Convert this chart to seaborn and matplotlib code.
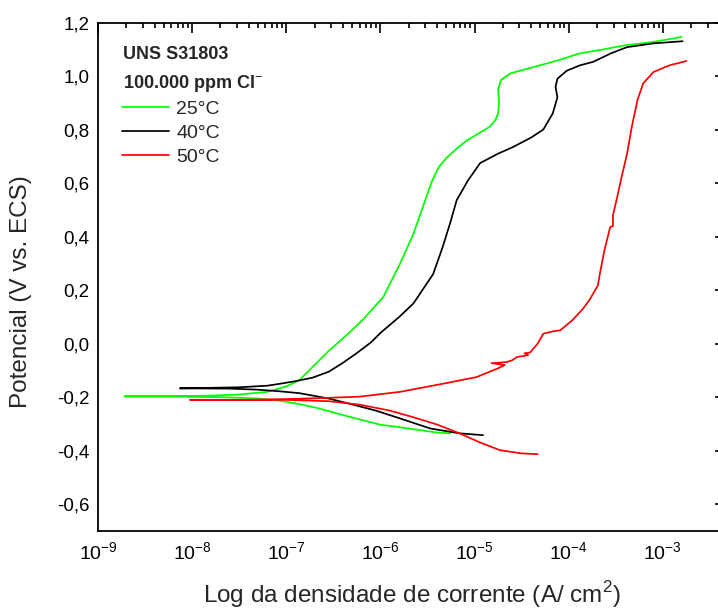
import numpy as np
import pandas as pd
import matplotlib
matplotlib.use("Agg")
import matplotlib.pyplot as plt
import matplotlib.ticker as mticker
import seaborn as sns

# curvas de polarizacao: log10(i [A/cm2]) e potencial (V vs. ECS)
# ordem da varredura: ramo catodico -> Ecorr -> ramo anodico
log_i_25 = [-5.26, -5.40, -5.60, -5.80, -6.00, -6.22, -6.45, -6.64, -6.86, -7.07, -7.30, -7.70,
            -8.20, -8.72,
            -8.20, -7.80, -7.50, -7.20, -7.00, -6.86, -6.70, -6.54, -6.35, -6.19, -5.97, -5.79,
            -5.65, -5.55, -5.45, -5.38, -5.29, -5.18, -5.08, -4.95, -4.84, -4.78, -4.75, -4.74,
            -4.75, -4.72, -4.62, -4.41, -4.10, -3.88, -3.67, -3.40, -3.11, -2.80]
E_25 = [-0.335, -0.332, -0.322, -0.312, -0.303, -0.283, -0.262, -0.243, -0.226, -0.213, -0.205, -0.200,
        -0.198, -0.197,
        -0.196, -0.194, -0.190, -0.180, -0.160, -0.136, -0.080, -0.024, 0.035, 0.088, 0.174, 0.300,
        0.410, 0.510, 0.610, 0.660, 0.697, 0.732, 0.760, 0.787, 0.810, 0.835, 0.860, 0.900,
        0.950, 0.985, 1.010, 1.030, 1.060, 1.085, 1.097, 1.115, 1.127, 1.146]

log_i_40 = [-4.91, -5.16, -5.47, -5.83, -6.05, -6.29, -6.55, -6.86, -7.07, -7.30, -7.60, -8.13,
            -7.80, -7.50, -7.20, -7.07, -6.90, -6.72, -6.55, -6.40, -6.25, -6.10, -6.00, -5.80,
            -5.65, -5.44, -5.34, -5.26, -5.19, -5.07, -4.94, -4.75, -4.59, -4.40, -4.27, -4.17,
            -4.12, -4.14, -4.12, -4.02, -3.88, -3.74, -3.55, -3.38, -3.10, -2.79]
E_40 = [-0.342, -0.335, -0.317, -0.275, -0.250, -0.228, -0.205, -0.185, -0.178, -0.172, -0.168, -0.167,
        -0.165, -0.163, -0.157, -0.150, -0.140, -0.127, -0.105, -0.072, -0.035, 0.005, 0.040, 0.100,
        0.150, 0.260, 0.360, 0.450, 0.536, 0.610, 0.675, 0.710, 0.735, 0.770, 0.800, 0.860,
        0.920, 0.960, 0.990, 1.020, 1.040, 1.053, 1.085, 1.108, 1.122, 1.130]

log_i_50 = [-4.33, -4.50, -4.73, -4.95, -5.16, -5.40, -5.65, -5.90, -6.22, -6.55, -7.00, -7.50, -8.02,
            -7.50, -7.00, -6.60, -6.22, -5.79, -5.34, -4.98, -4.75, -4.68, -4.82, -4.66, -4.60,
            -4.55, -4.43, -4.47, -4.41, -4.33, -4.27, -4.18, -4.09, -3.96, -3.85, -3.78, -3.69,
            -3.67, -3.62, -3.56, -3.53, -3.53, -3.49, -3.44, -3.38, -3.33, -3.27, -3.21, -3.10,
            -2.93, -2.75]
E_50 = [-0.413, -0.410, -0.398, -0.368, -0.335, -0.302, -0.275, -0.250, -0.228, -0.215, -0.210, -0.210, -0.210,
        -0.210, -0.207, -0.203, -0.198, -0.180, -0.150, -0.125, -0.092, -0.080, -0.073, -0.069, -0.062,
        -0.050, -0.043, -0.036, -0.033, 0.000, 0.037, 0.045, 0.050, 0.088, 0.130, 0.163, 0.218,
        0.260, 0.350, 0.435, 0.440, 0.480, 0.540, 0.620, 0.710, 0.810, 0.910, 0.972, 1.015,
        1.040, 1.056]

temps = ["25°C", "40°C", "50°C"]
cores = ["#00ff00", "#000000", "#ff0000"]
x_ticks = [1e-9, 1e-8, 1e-7, 1e-6, 1e-5, 1e-4, 1e-3]

frames = []
for t, li, e in zip(temps, [log_i_25, log_i_40, log_i_50], [E_25, E_40, E_50]):
    frames.append(pd.DataFrame({"i": 10 ** np.array(li), "E": e, "T": t}))
df = pd.concat(frames, ignore_index=True)

sns.set_style("white")
plt.rcParams['font.family'] = ['Liberation Sans', 'DejaVu Sans']
plt.rcParams['mathtext.fontset'] = 'custom'
plt.rcParams['mathtext.rm'] = 'Liberation Sans'
plt.rcParams['mathtext.bf'] = 'Liberation Sans:bold'

fig = plt.figure(figsize=(7.18, 6.10), dpi=100)
ax = fig.add_axes([98 / 718, 1 - 531 / 610, 627 / 718, 508.5 / 610])

sns.lineplot(data=df, x="i", y="E", hue="T", palette=cores, sort=False,
             estimator=None, linewidth=1.25, ax=ax)

ax.set_xscale("log")
ax.set_xlim(1e-9, 10 ** -2.34)
ax.set_ylim(-0.7, 1.2)

ax.xaxis.set_major_locator(mticker.FixedLocator(x_ticks))
ax.xaxis.set_major_formatter(mticker.LogFormatterSciNotation())
ax.xaxis.set_minor_locator(mticker.LogLocator(base=10, subs=np.arange(2, 10), numticks=12))
ax.xaxis.set_minor_formatter(mticker.NullFormatter())
ax.yaxis.set_major_locator(mticker.MultipleLocator(0.2))
ax.yaxis.set_minor_locator(mticker.MultipleLocator(0.1))
ax.yaxis.set_major_formatter(mticker.FuncFormatter(lambda v, p: f"{round(v, 1) + 0.0:.1f}".replace(".", ",")))

for s in ax.spines.values():
    s.set_visible(True)
    s.set_linewidth(1.3)
    s.set_color("black")
ax.tick_params(which="both", direction="in", top=True, right=True, width=1.2, colors="black")
ax.tick_params(which="major", length=7)
ax.tick_params(which="minor", length=3.5)
ax.tick_params(axis="x", which="major", labelsize=14, pad=7)
ax.tick_params(axis="y", which="major", labelsize=13.5, pad=6)

ax.set_xlabel("Log da densidade de corrente (A/ cm$^2$)", fontsize=17.5)
ax.set_ylabel("Potencial (V vs. ECS)", fontsize=17.5)
ax.xaxis.set_label_coords(0.5, -0.094)
ax.yaxis.set_label_coords(-0.105, 0.47)

ax.text(0.040, 0.937, "UNS S31803", transform=ax.transAxes, fontsize=13,
        fontweight="bold", va="center", ha="left")
ax.text(0.040, 0.880, "100.000 ppm Cl$^{-}$", transform=ax.transAxes, fontsize=13,
        fontweight="bold", va="center", ha="left")

handles, labels = ax.get_legend_handles_labels()
ax.legend(handles, labels, loc="upper left", bbox_to_anchor=(0.038, 0.847), frameon=False,
          fontsize=14, handlelength=2.45, handletextpad=0.35, labelspacing=0.32,
          borderpad=0, borderaxespad=0)

fig.savefig("out.png", dpi=100)
